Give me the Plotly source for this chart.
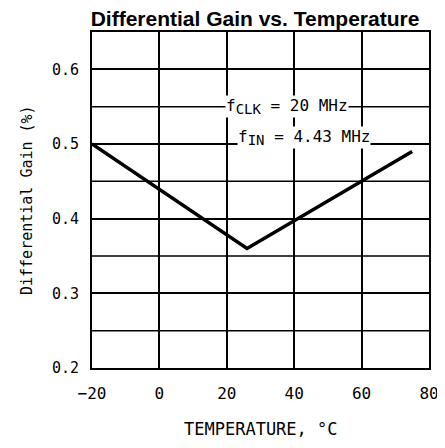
import plotly.graph_objects as go

temperature = [-20, 26, 75]
diff_gain = [0.50, 0.36, 0.49]
x_ticks = [-20, 0, 20, 40, 60, 80]
x_tick_labels = ["\u221220", "0", "20", "40", "60", "80"]
y_ticks = [0.2, 0.3, 0.4, 0.5, 0.6]
y_tick_labels = ["0.2", "0.3", "0.4", "0.5", "0.6"]
y_grid = [0.25, 0.35, 0.45, 0.55]

mono = "DejaVu Sans Mono"
tick_font = dict(family=mono, size=15, color="black")
ann_font = dict(family=mono, size=16, color="black")

fig = go.Figure()
fig.add_trace(go.Scatter(x=temperature, y=diff_gain, mode="lines",
                         line=dict(color="black", width=3.5), showlegend=False))

shapes = []
for g in y_grid:
    shapes.append(dict(type="line", xref="paper", x0=0, x1=1, yref="y", y0=g, y1=g,
                       line=dict(color="black", width=1.5), layer="below"))
fig.update_layout(shapes=shapes)

fig.add_annotation(x=38, y=0.55, xref="x", yref="y",
                   text="f<sub><span style=\"font-size:14px\">CLK</span></sub> = 20 MHz", showarrow=False,
                   font=ann_font, bgcolor="white", borderpad=0, xanchor="center", yanchor="middle")
fig.add_annotation(x=43, y=0.509, xref="x", yref="y",
                   text="f<sub><span style=\"font-size:14px\">IN</span></sub> = 4.43 MHz", showarrow=False,
                   font=ann_font, bgcolor="white", borderpad=0, xanchor="center", yanchor="middle")

fig.add_annotation(x=0.0, y=0.5, xref="paper", yref="paper", xshift=-65,
                   text="Differential Gain (%)", textangle=-90, showarrow=False,
                   font=dict(family=mono, size=15, color="black"), xanchor="center", yanchor="middle")
fig.add_annotation(x=0.5, y=0.0, xref="paper", yref="paper", yshift=-49,
                   text="TEMPERATURE, \u00b0C", showarrow=False,
                   font=dict(family=mono, size=17, color="black"), xanchor="center", yanchor="top")

fig.update_layout(
    width=445, height=448,
    margin=dict(l=84, r=24, t=24, b=88, autoexpand=False),
    plot_bgcolor="white", paper_bgcolor="white",
    title=dict(text="<b>Differential Gain vs. Temperature</b>", x=247/445, xanchor="center",
               xref="container", yref="container", y=1 - 11/448, yanchor="middle",
               font=dict(family="Liberation Sans, Arial", size=21, color="black")),
    xaxis=dict(range=[-20, 80], tickvals=x_ticks, ticktext=x_tick_labels,
               showgrid=True, gridcolor="black", gridwidth=1.5,
               showline=True, linecolor="black", linewidth=2, mirror=True,
               zeroline=False, ticks="outside", ticklen=10, tickcolor="white",
               tickfont=dict(family=mono, size=16, color="black"), automargin=False),
    yaxis=dict(range=[0.2, 0.65], tickvals=y_ticks, ticktext=y_tick_labels,
               showgrid=True, gridcolor="black", gridwidth=1.5,
               showline=True, linecolor="black", linewidth=2, mirror=True,
               zeroline=False, ticks="outside", ticklen=8, tickcolor="white",
               tickfont=tick_font, automargin=False),
)

fig.write_html("out.html")
